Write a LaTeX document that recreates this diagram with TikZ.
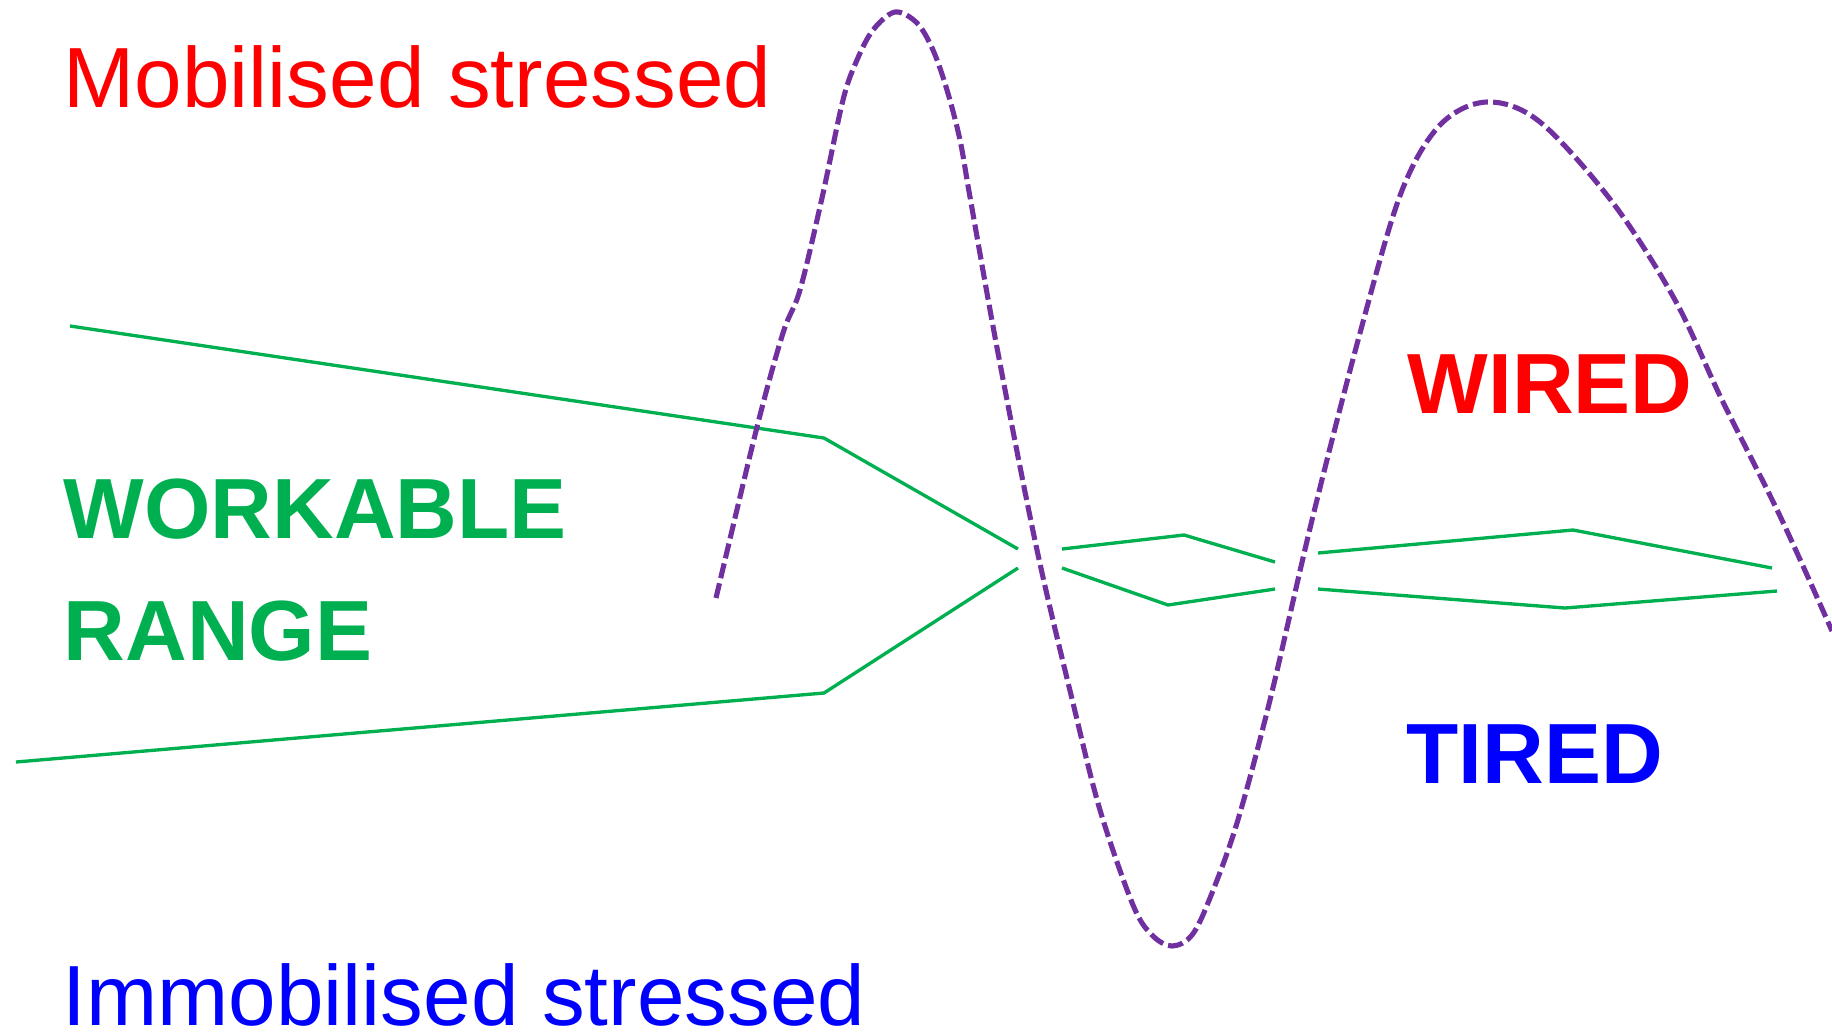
\documentclass[tikz,border=0pt]{standalone}
\usepackage{fontspec}
\setmainfont{Liberation Sans}
\definecolor{myred}{HTML}{FF0000}
\definecolor{myblue}{HTML}{0000FF}
\definecolor{mygreen}{HTML}{00B050}
\definecolor{mypurple}{HTML}{7030A0}
\begin{document}
\begin{tikzpicture}[x=0.01cm,y=-0.01cm,
  lbl/.style={anchor=base west,inner sep=0pt,font=\fontsize{24.3}{28}\selectfont},
  blbl/.style={lbl,font=\fontsize{24.3}{28}\selectfont\bfseries},
  gline/.style={draw=mygreen,line width=0.95pt,line join=miter},
  wave/.style={draw=mypurple,line width=1.45pt,dash pattern=on 4.3pt off 1.5pt}]
\useasboundingbox[fill=white] (0,0) rectangle (1832,1032);
% texts
\node[lbl,text=myred] (mob) at (63,107) {Mobilised stressed};
\node[lbl,text=myblue] (imm) at (62,1025) {Immobilised stressed};
\node[blbl,text=mygreen] (work) at (63,538) {WORKABLE};
\node[blbl,text=mygreen] (range) at (63,660) {RANGE};
\node[blbl,text=myred] (wired) at (1407,413) {WIRED};
\node[blbl,text=myblue] (tired) at (1406,783) {TIRED};
% green lines
\coordinate (a0) at (70,326); \coordinate (a1) at (824,438); \coordinate (a2) at (1018,549);
\coordinate (b0) at (16,762); \coordinate (b1) at (824,693); \coordinate (b2) at (1018,568);
\draw[gline] (a0) -- (a1) -- (a2);
\draw[gline] (b0) -- (b1) -- (b2);
\coordinate (c0) at (1062,549); \coordinate (c1) at (1184,535); \coordinate (c2) at (1275,562);
\coordinate (d0) at (1062,568); \coordinate (d1) at (1168,605); \coordinate (d2) at (1275,589);
\draw[gline] (c0) -- (c1) -- (c2);
\draw[gline] (d0) -- (d1) -- (d2);
\coordinate (e0) at (1318,553); \coordinate (e1) at (1573,530); \coordinate (e2) at (1772,568);
\coordinate (f0) at (1318,589); \coordinate (f1) at (1565,608); \coordinate (f2) at (1777,591);
\draw[gline] (e0) -- (e1) -- (e2);
\draw[gline] (f0) -- (f1) -- (f2);
% purple dashed wave
\draw[wave] plot[smooth,tension=0.55] coordinates {
 (716,598) (757,427) (783,333) (800,290) (822,198) (843,100) (857,60) (873,30) (895,12)
 (917,23) (933,50) (947,90) (960,140) (970,197) (998,353) (1037,550) (1073,703)
 (1100,810) (1133,905) (1152,935) (1172,946) (1192,935) (1210,898) (1237,823) (1270,700) (1313,516)
 (1360,333) (1401,193) (1440,125) (1487,102) (1540,122) (1613,203) (1675,300)
 (1722,400) (1780,516) (1832,631)};
\end{tikzpicture}
\end{document}
